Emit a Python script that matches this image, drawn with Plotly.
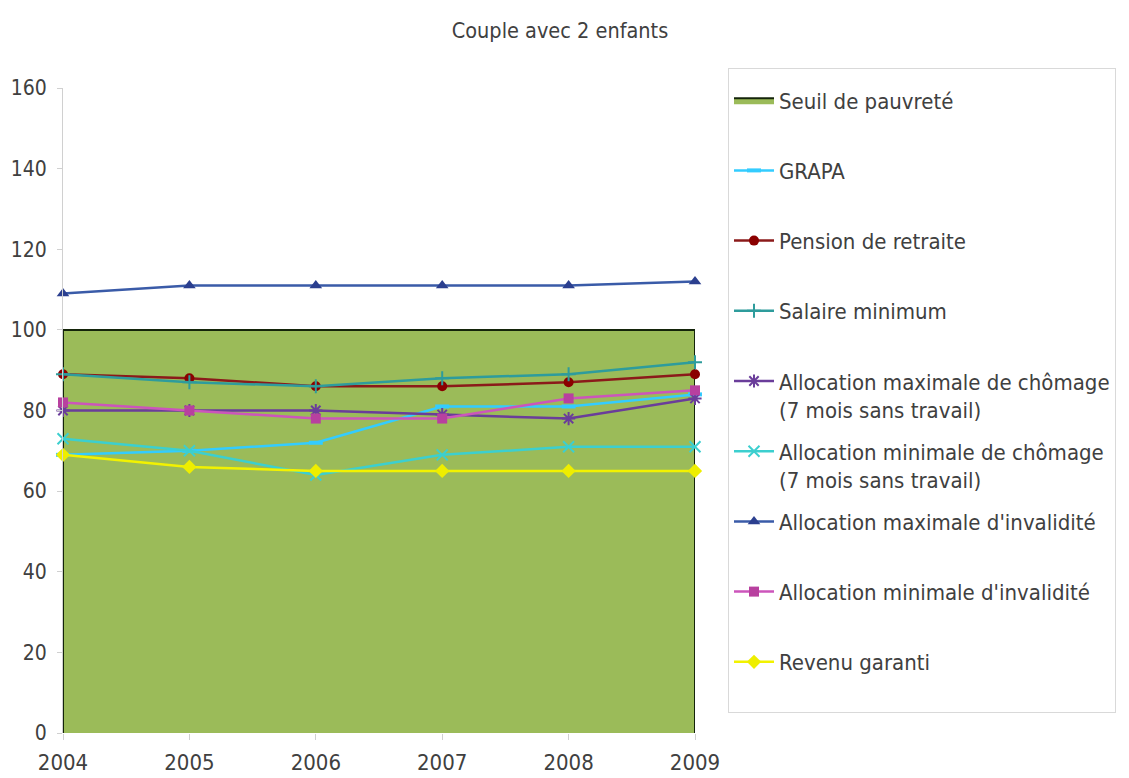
import plotly.graph_objects as go

years = [2004, 2005, 2006, 2007, 2008, 2009]
seuil_pauvrete = [100, 100, 100, 100, 100, 100]
grapa = [69, 70, 72, 81, 81, 84]
pension_retraite = [89, 88, 86, 86, 87, 89]
salaire_minimum = [89, 87, 86, 88, 89, 92]
alloc_max_chomage = [80, 80, 80, 79, 78, 83]
alloc_min_chomage = [73, 70, 64, 69, 71, 71]
alloc_max_invalidite = [109, 111, 111, 111, 111, 112]
alloc_min_invalidite = [82, 80, 78, 78, 83, 85]
revenu_garanti = [69, 66, 65, 65, 65, 65]

title_text = "Couple avec 2 enfants"
y_ticks = [0, 20, 40, 60, 80, 100, 120, 140, 160]

FONT = "Liberation Sans Narrow, DejaVu Sans Condensed, sans-serif"
TXT = "#404040"
PAD = "<br>\u00a0"

W, H = 1121, 770
ML, MR, MT, MB = 55, 434, 80, 45
PW, PH = W - ML - MR, H - MT - MB

fig = go.Figure()

# Poverty threshold area (closed polygon down to zero)
fig.add_trace(go.Scatter(
    x=[years[0]] + years + [years[-1]],
    y=[0] + seuil_pauvrete + [0],
    fill="toself", fillcolor="#9BBB59",
    mode="lines", line=dict(color="#14240A", width=2),
    name="Seuil de pauvreté" + PAD, legendgroup="g0",
))

series = [
    ("GRAPA" + PAD, grapa, "#33CCFF", dict(symbol="line-ew-open", size=10, line=dict(width=4, color="#33CCFF"))),
    ("Pension de retraite" + PAD, pension_retraite, "#8B1A1A", dict(symbol="circle", size=10, color="#8B0000")),
    ("Salaire minimum" + PAD, salaire_minimum, "#2E9C9C", dict(symbol="cross-thin-open", size=10, line=dict(width=2, color="#2E8B57"))),
    ("Allocation maximale de chômage<br>(7 mois sans travail)", alloc_max_chomage, "#6A3D9A", dict(symbol="asterisk-open", size=11, line=dict(width=2, color="#4B2A7A"))),
    ("Allocation minimale de chômage<br>(7 mois sans travail)", alloc_min_chomage, "#3CCFCF", dict(symbol="x-thin-open", size=11, line=dict(width=2, color="#3CCFCF"))),
    ("Allocation maximale d'invalidité" + PAD, alloc_max_invalidite, "#3A5BA8", dict(symbol="triangle-up", size=11, color="#2B3F8F")),
    ("Allocation minimale d'invalidité" + PAD, alloc_min_invalidite, "#CC55BB", dict(symbol="square", size=10, color="#B8409F")),
    ("Revenu garanti" + PAD, revenu_garanti, "#F2F200", dict(symbol="diamond", size=11, color="#EEEE00")),
]

for i, (name, vals, col, mk) in enumerate(series):
    fig.add_trace(go.Scatter(
        x=years, y=vals, mode="lines+markers", name=name,
        line=dict(color=col, width=2.5), marker=mk,
        cliponaxis=False, legendgroup=f"g{i+1}",
    ))

fig.update_layout(
    width=W, height=H,
    paper_bgcolor="white", plot_bgcolor="white",
    margin=dict(l=ML, r=MR, t=MT, b=MB, autoexpand=False),
    font=dict(family=FONT, size=22, color=TXT),
    title=dict(text=title_text, x=552 / W, xanchor="center", y=1 - 22 / H, yanchor="middle",
               font=dict(family=FONT, size=21.5, color=TXT)),
    showlegend=True,
    legend=dict(
        x=(720 - ML) / PW, xanchor="left", y=(MT + PH - 60) / PH, yanchor="top",
        bgcolor="white", bordercolor="#D9D9D9", borderwidth=1,
        font=dict(family=FONT, size=22, color=TXT),
        valign="top", tracegroupgap=10, traceorder="grouped",
        itemwidth=40, maxheight=720, entrywidth=370, entrywidthmode="pixels",
        title=dict(text="\u00a0", font=dict(size=8)),
    ),
    xaxis=dict(
        range=[2004, 2009], tickvals=years, ticktext=[str(y) for y in years],
        showgrid=False, zeroline=False, showline=False, automargin=False,
        ticks="outside", ticklen=6, tickcolor="#D0D0D0", ticklabelstandoff=4,
        tickfont=dict(family=FONT, size=22, color=TXT),
    ),
    yaxis=dict(
        range=[0, 160], tickvals=y_ticks, automargin=False,
        showgrid=False, zeroline=False, showline=True, linecolor="#D0D0D0", linewidth=1,
        ticks="outside", ticklen=5, tickcolor="#D0D0D0", ticklabelstandoff=6,
        tickfont=dict(family=FONT, size=21, color=TXT),
    ),
)

fig.write_html("out.html")
